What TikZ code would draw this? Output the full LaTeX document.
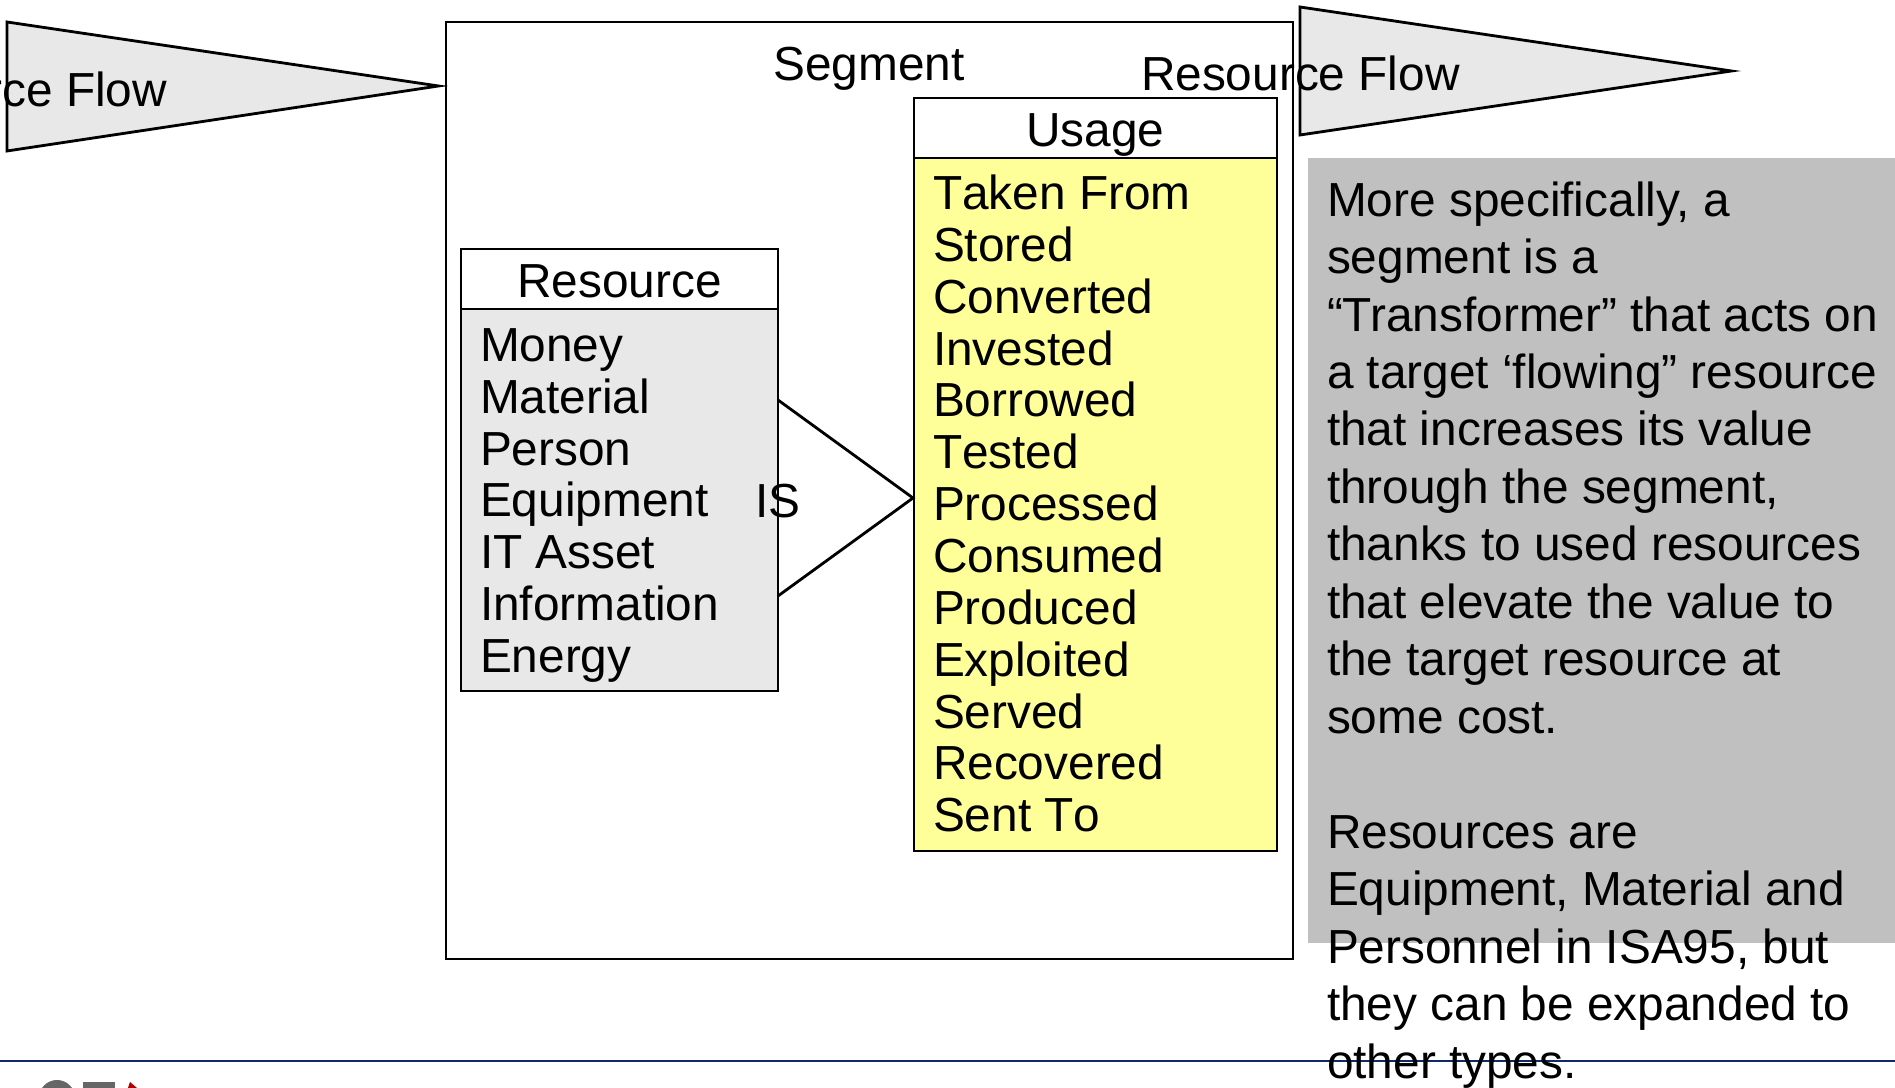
\documentclass[tikz,border=0pt]{standalone}
\usepackage{fontspec}
\setmainfont{Liberation Sans}
\usepackage{xcolor}
\usetikzlibrary{positioning}
\definecolor{FLOWGREY}{HTML}{E8E8E8}
\definecolor{NOTEGREY}{HTML}{C0C0C0}
\definecolor{USAGEYELLOW}{HTML}{FFFF99}
\definecolor{RULENAVY}{HTML}{0F2A6B}
\newcommand{\bigtext}{\fontsize{13.6pt}{14.75pt}\selectfont}
\newcommand{\notetext}{\fontsize{13.6pt}{16.35pt}\selectfont}

\begin{document}
\begin{tikzpicture}[
          box/.style={rectangle, draw=black, line width=0.8pt, inner sep=0pt, outer sep=0pt},
          txt/.style={inner sep=0pt, outer sep=0pt, font=\bigtext},
          list/.style={txt, align=left, anchor=north west},
          flow/.style={draw=black, line width=0.8pt, fill=FLOWGREY, line join=miter}
        ]
          \useasboundingbox (0,0) rectangle (18.95,10.88);
          \clip (0,0) rectangle (18.95,10.88);
          % outer box
          \node[box, minimum width=8.47cm, minimum height=9.37cm] (segment) at (8.695,5.975) {};
          \node[txt] (segmenttitle) at (8.69,10.19) {Segment};
          % flows
          \draw[flow] (0.07,10.66) -- (4.385,10.02) -- (0.07,9.37) -- cycle;
          \draw[flow] (13.00,10.81) -- (17.315,10.17) -- (13.00,9.53) -- cycle;
          \node[box, fill=NOTEGREY, draw=none, minimum width=5.87cm, minimum height=7.85cm] (note) at (16.015,5.375) {};
          % resource
          \node[box, minimum width=3.17cm, minimum height=0.60cm] (resourcehead) at (6.195,8.09) {};
          \node[box, fill=FLOWGREY, minimum width=3.17cm, minimum height=3.82cm, below=0pt of resourcehead] (resourcebody) {};
          \node[txt, yshift=-0.025cm] (resourcetitle) at (resourcehead.center) {Resource};
          \node[list] (resourcelist) at (4.80,7.595) {Money\\Material\\Person\\Equipment\\IT Asset\\Information\\Energy};
          % usage
          \node[box, minimum width=3.63cm, minimum height=0.60cm] (usagehead) at (10.955,9.60) {};
          \node[box, fill=USAGEYELLOW, minimum width=3.63cm, minimum height=6.93cm, below=0pt of usagehead] (usagebody) {};
          \node[txt, yshift=-0.07cm] (usagetitle) at (usagehead.center) {Usage};
          \node[list, font=\bigtext\addfontfeature{Kerning=Off}] (usagelist) at (9.33,9.13) {Taken From\\Stored\\Converted\\Invested\\Borrowed\\Tested\\Processed\\Consumed\\Produced\\Exploited\\Served\\Recovered\\Sent To};
          % IS triangle
          \coordinate (istop) at (7.78,6.88);
          \coordinate (istip) at (9.13,5.90);
          \coordinate (isbot) at (7.78,4.92);
          \draw[line width=0.8pt] (istop) -- (istip) -- (isbot);
          \node[txt] (istext) at (7.78,5.87) {IS};
          % flow labels
          \node[txt, anchor=base east] (flowin) at (1.67,9.815) {Resource Flow};
          \node[txt, anchor=base west] (flowout) at (11.41,9.975) {Resource Flow};
          % footer
          \draw[RULENAVY, line width=0.7pt] (0,0.27) -- (18.95,0.27);
          \fill[black!60] (0.57,-0.10) circle (0.18);
          \fill[black!60] (0.83,-0.05) rectangle (1.15,0.06);
          \fill[red!70!black] (1.28,0.00) -- (1.37,0.00) -- (1.30,0.06) -- cycle;
          % note text
          \node[inner sep=0pt, outer sep=0pt, font=\notetext, align=left, anchor=north west] (notetext) at (13.27,9.065) {More specifically, a\\segment is a\\“Transformer” that acts on\\a target ‘flowing” resource\\that increases its value\\through the segment,\\thanks to used resources\\that elevate the value to\\the target resource at\\some cost.\\[16.35pt]Resources are\\Equipment, Material and\\Personnel in ISA95, but\\they can be expanded to\\other types.};
        \end{tikzpicture}
\end{document}
